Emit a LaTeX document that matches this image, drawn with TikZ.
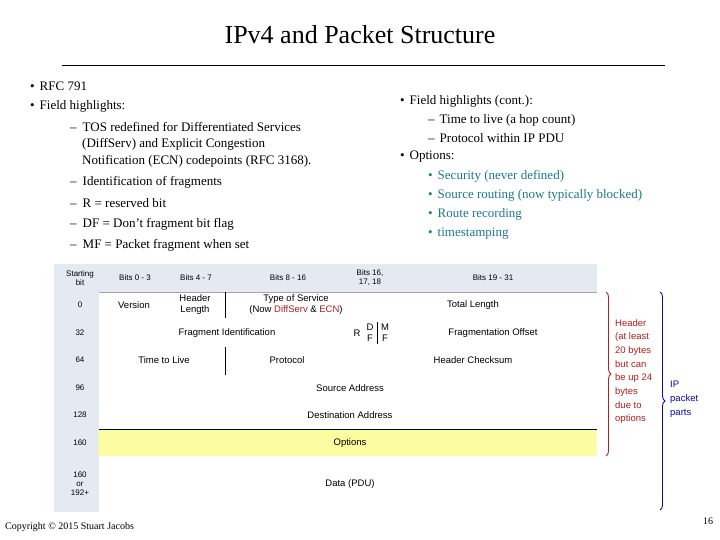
\documentclass[tikz,border=0pt]{standalone}
\usepackage{fontspec}
\setmainfont{Liberation Serif}
\setsansfont{Liberation Sans}
\usetikzlibrary{decorations.pathreplacing}
\definecolor{hdr}{RGB}{228,234,242}
\definecolor{opt}{RGB}{252,252,160}
\definecolor{brred}{RGB}{180,30,30}
\definecolor{brblue}{RGB}{10,10,170}
\definecolor{teal}{RGB}{30,120,140}
\begin{document}
\begin{tikzpicture}[x=1pt,y=-1pt,
  txt/.style={font=\fontsize{13}{16}\selectfont,anchor=west,inner sep=0},
  cell/.style={font=\sffamily\fontsize{9.5}{11}\selectfont,inner sep=0,align=center},
  hcell/.style={font=\sffamily\fontsize{8}{9}\selectfont,inner sep=0,align=center},
  side/.style={font=\sffamily\fontsize{9.5}{13.7}\selectfont,inner sep=0,anchor=north west,align=left},
  sep/.style={draw=black,line width=0.6pt}]
\useasboundingbox[fill=white] (0,0) rectangle (720,540);
\node[font=\fontsize{26}{30}\selectfont] (title) at (360,35) {IPv4 and Packet Structure};
\draw[line width=1pt] (62,66) -- (665,66);
% left text
\node[txt] (b1) at (30,86) {•\hspace{5pt}RFC 791};
\node[txt] (b2) at (30,106) {•\hspace{5pt}Field highlights:};
\node[txt] (s1) at (70,127) {–\hspace{6pt}TOS redefined for Differentiated Services};
\node[txt] (s1b) at (82,144) {(DiffServ) and Explicit Congestion};
\node[txt] (s1c) at (82,161) {Notification (ECN) codepoints (RFC 3168).};
\node[txt] (s2) at (70,182) {–\hspace{6pt}Identification of fragments};
\node[txt] (s3) at (70,203) {–\hspace{6pt}R = reserved bit};
\node[txt] (s4) at (70,224) {–\hspace{6pt}DF = Don't fragment bit flag};
\node[txt] (s5) at (70,245) {–\hspace{6pt}MF = Packet fragment when set};
% right text
\node[txt] (r1) at (400,101) {•\hspace{5pt}Field highlights (cont.):};
\node[txt] (r2) at (428,120) {–\hspace{5pt}Time to live (a hop count)};
\node[txt] (r3) at (428,138) {–\hspace{5pt}Protocol within IP PDU};
\node[txt] (r4) at (400,157) {•\hspace{5pt}Options:};
\node[txt,text=teal] (r5) at (428,176) {•\hspace{5pt}Security (never defined)};
\node[txt,text=teal] (r6) at (428,195) {•\hspace{5pt}Source routing (now typically blocked)};
\node[txt,text=teal] (r7) at (428,214) {•\hspace{5pt}Route recording};
\node[txt,text=teal] (r8) at (428,234) {•\hspace{5pt}timestamping};
% table background
\fill[hdr] (54,264) rectangle (597,512);
\fill[white] (99,292) rectangle (597,512);
\fill[opt] (99,429) rectangle (597,456);
\draw[gray!70,line width=0.6pt] (99,292) -- (597,292);
\draw[sep] (99,429) -- (597,429);
\draw[sep] (225,292) -- (225,318);
\draw[sep] (225,347) -- (225,375);
\draw[sep] (377,322) -- (377,344);
% headers
\node[hcell] (h0) at (80,278) {Starting\\bit};
\node[hcell] (h1) at (135,278) {Bits 0 - 3};
\node[hcell] (h2) at (196,278) {Bits 4 - 7};
\node[hcell] (h3) at (288,278) {Bits 8 - 16};
\node[hcell] (h4) at (370,278) {Bits 16,\\17, 18};
\node[hcell] (h5) at (493,278) {Bits 19 - 31};
\node[hcell] (k0) at (80,305) {0};
\node[hcell] (k1) at (80,333) {32};
\node[hcell] (k2) at (80,360) {64};
\node[hcell] (k3) at (80,388) {96};
\node[hcell] (k4) at (80,415) {128};
\node[hcell] (k5) at (80,443) {160};
\node[hcell] (k6) at (80,484) {160\\or\\192+};
% cells
\node[cell] (ver) at (134,305) {Version};
\node[cell] (hl) at (195,305) {Header\\Length};
\node[cell] (tos) at (296,305) {Type of Service\\(Now \textcolor{brred}{DiffServ} \& \textcolor{brred}{ECN})};
\node[cell] (tl) at (473,305) {Total Length};
\node[cell] (fid) at (227,333) {Fragment Identification};
\node[cell] (r) at (357,333) {R};
\node[cell] (df) at (370,333) {D\\F};
\node[cell] (mf) at (385,333) {M\\F};
\node[cell] (fo) at (493,333) {Fragmentation Offset};
\node[cell] (ttl) at (164,360) {Time to Live};
\node[cell] (pro) at (287,360) {Protocol};
\node[cell] (hc) at (473,360) {Header Checksum};
\node[cell] (sa) at (350,388) {Source Address};
\node[cell] (da) at (350,415) {Destination Address};
\node[cell] (op) at (350,443) {Options};
\node[cell] (dat) at (350,484) {Data (PDU)};
% braces
\coordinate (rb1) at (606,292); \coordinate (rb2) at (606,456);
\draw[brred,line width=0.9pt,decorate,decoration={brace,amplitude=5pt}] (rb1) -- (rb2);
\node[side,text=brred] (hdrtxt) at (615,319) {Header\\(at least\\20 bytes\\but can\\be up 24\\bytes\\due to\\options};
\coordinate (bb1) at (660,292); \coordinate (bb2) at (660,510);
\draw[brblue,line width=0.9pt,decorate,decoration={brace,amplitude=5pt}] (bb1) -- (bb2);
\node[side,text=brblue] (iptxt) at (670,381) {IP\\packet\\parts};
% footer
\node[anchor=west,inner sep=0,font=\fontsize{10}{12}\selectfont] (copy) at (5,527) {Copyright © 2015 Stuart Jacobs};
\node[inner sep=0,font=\fontsize{10}{12}\selectfont] (pg) at (708,521) {16};
\end{tikzpicture}
\end{document}
